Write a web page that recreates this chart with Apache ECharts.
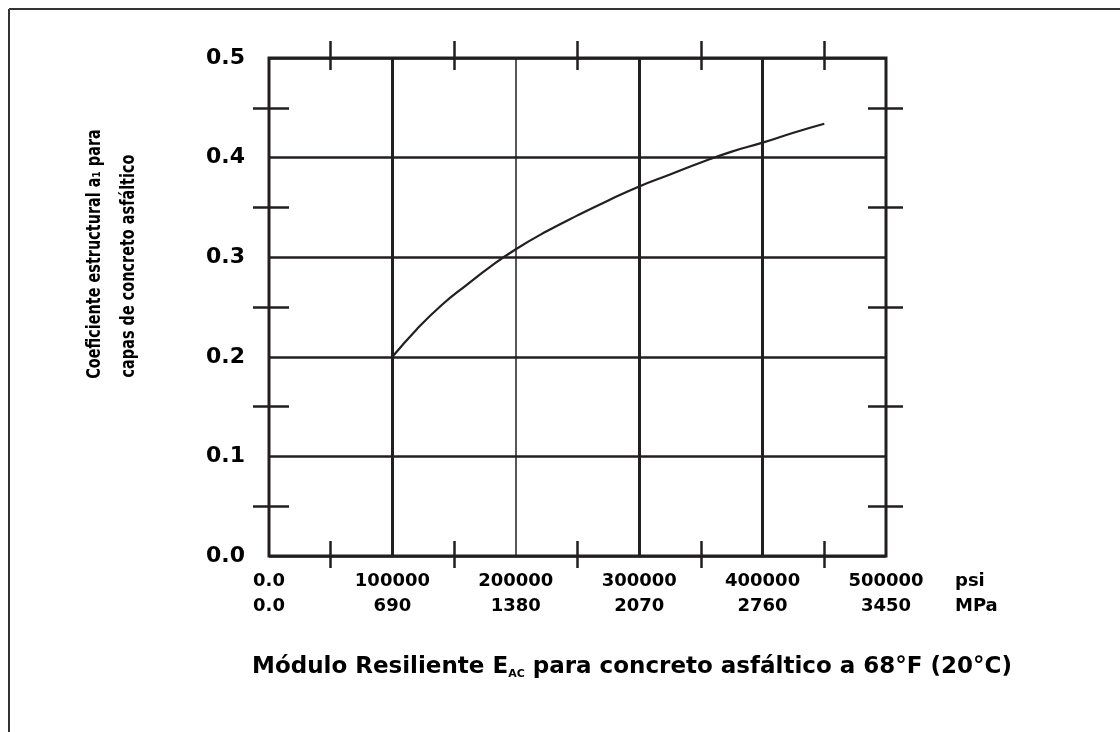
<!DOCTYPE html>
<html><head><meta charset="utf-8">
<script src="https://cdn.jsdelivr.net/npm/echarts@6/dist/echarts.min.js"></script>
<style>html,body{margin:0;padding:0;background:#fff}#c{width:1120px;height:732px}</style>
</head><body><div id="c"></div><script>
// ---- data ----
const psiValues = [100000,120000,140000,160000,180000,200000,225000,250000,275000,300000,325000,350000,375000,400000,425000,450000];
const a1Values  = [0.200,0.228,0.252,0.272,0.291,0.308,0.326,0.342,0.357,0.371,0.383,0.395,0.406,0.415,0.425,0.434];
const psiTicks = [0,100000,200000,300000,400000,500000];
const psiTickLabels = ['0.0','100000','200000','300000','400000','500000'];
const mpaTickLabels = ['0.0','690','1380','2070','2760','3450'];
const thickGridPsi = [100000,300000,400000];
const xUnits = ['psi','MPa'];
const xTitleParts = ['Módulo Resiliente E', 'AC', ' para concreto asfáltico a 68°F (20°C)'];
const yTitleLines = ['Coeficiente estructural a\u2081 para', 'capas de concreto asfáltico'];

const INK = '#231f20';
const BOLD = 'DejaVu Sans, Liberation Sans, sans-serif';

const chart = echarts.init(document.getElementById('c'), null, {renderer:'canvas'});
const XMAX = 500000, YMAX = 0.5;

function tickAxisX(pos, offset, len) {
  return {type:'value', position:pos, offset:offset, min:0, max:XMAX, interval:100000,
    axisLine:{show:false, onZero:false}, axisLabel:{show:false}, splitLine:{show:false},
    axisTick:{show:false, inside:true},
    minorTick:{show:true, splitNumber:2, length:len, lineStyle:{color:INK, width:2.5}}};
}
function tickAxisY(pos, offset, len) {
  return {type:'value', position:pos, offset:offset, min:0, max:YMAX, interval:0.1,
    axisLine:{show:false, onZero:false}, axisLabel:{show:false}, splitLine:{show:false},
    axisTick:{show:false, inside:true},
    minorTick:{show:true, splitNumber:2, length:len, lineStyle:{color:INK, width:2.5}}};
}

chart.setOption({
  backgroundColor:'#fff',
  animation:false,
  grid:{left:269, right:234, top:58, bottom:176, show:true, borderColor:INK, borderWidth:3, outerBoundsMode:'none'},
  title:{
    left:247, top:650,
    text:'{t|'+xTitleParts[0]+'}{s|'+xTitleParts[1]+'}{t|'+xTitleParts[2]+'}',
    textStyle:{rich:{
      t:{fontFamily:BOLD, fontWeight:'bold', fontSize:23, color:'#000'},
      s:{fontFamily:BOLD, fontWeight:'bold', fontSize:11, color:'#000', padding:[14,0,0,0]}
    }}
  },
  graphic:[
    {type:'line', shape:{x1:9, y1:9, x2:1120, y2:9}, style:{stroke:'#333', lineWidth:2}, silent:true},
    {type:'line', shape:{x1:9, y1:9, x2:9, y2:732}, style:{stroke:'#333', lineWidth:2}, silent:true},
    {type:'text', x:95, y:254, rotation:Math.PI/2, scaleX:0.76, silent:true,
      style:{text:yTitleLines[0], fontFamily:BOLD, fontWeight:'bold', fontSize:19, fill:'#000', align:'center', verticalAlign:'middle'}},
    {type:'text', x:129, y:266, rotation:Math.PI/2, scaleX:0.76, silent:true,
      style:{text:yTitleLines[1], fontFamily:BOLD, fontWeight:'bold', fontSize:19, fill:'#000', align:'center', verticalAlign:'middle'}}
  ],
  xAxis:[
    {type:'value', position:'bottom', min:0, max:XMAX, interval:100000,
      axisLine:{show:false, onZero:false}, axisTick:{show:false},
      splitLine:{show:true, lineStyle:{color:INK, width:1.5}},
      axisLabel:{margin:13, lineHeight:25,
        formatter:function(v){ const i = psiTicks.indexOf(v); if (i<0) return ''; return '{p|'+psiTickLabels[i]+'}\n{p|'+mpaTickLabels[i]+'}'; },
        rich:{p:{fontFamily:BOLD, fontWeight:'bold', fontSize:18, color:'#000', lineHeight:25}}},
      name:xUnits.join('\n'), nameLocation:'end', nameGap:69,
      nameTextStyle:{fontFamily:BOLD, fontWeight:'bold', fontSize:18, color:'#000', lineHeight:25, align:'left', verticalAlign:'top', padding:[13,0,0,0]}
    },
    tickAxisX('bottom', 12, 27),
    tickAxisX('top', 17, 29)
  ],
  yAxis:[
    {type:'value', position:'left', min:0, max:YMAX, interval:0.1,
      axisLine:{show:false, onZero:false}, axisTick:{show:false},
      splitLine:{show:true, lineStyle:{color:INK, width:2.5}},
      axisLabel:{margin:24, fontFamily:BOLD, fontWeight:'bold', fontSize:22, color:'#000',
        formatter:function(v){ return v.toFixed(1); }}
    },
    tickAxisY('left', 16, 36),
    tickAxisY('right', 17, 35)
  ],
  series:[{
    type:'line', xAxisIndex:0, yAxisIndex:0,
    data: psiValues.map((p,i)=>[p, a1Values[i]]),
    smooth:true, showSymbol:false, symbol:'none',
    lineStyle:{color:INK, width:2.2},
    markLine:{silent:true, symbol:'none', label:{show:false},
      lineStyle:{color:INK, width:3, type:'solid'},
      data: thickGridPsi.map(p=>({xAxis:p}))}
  }]
});
</script></body></html>
